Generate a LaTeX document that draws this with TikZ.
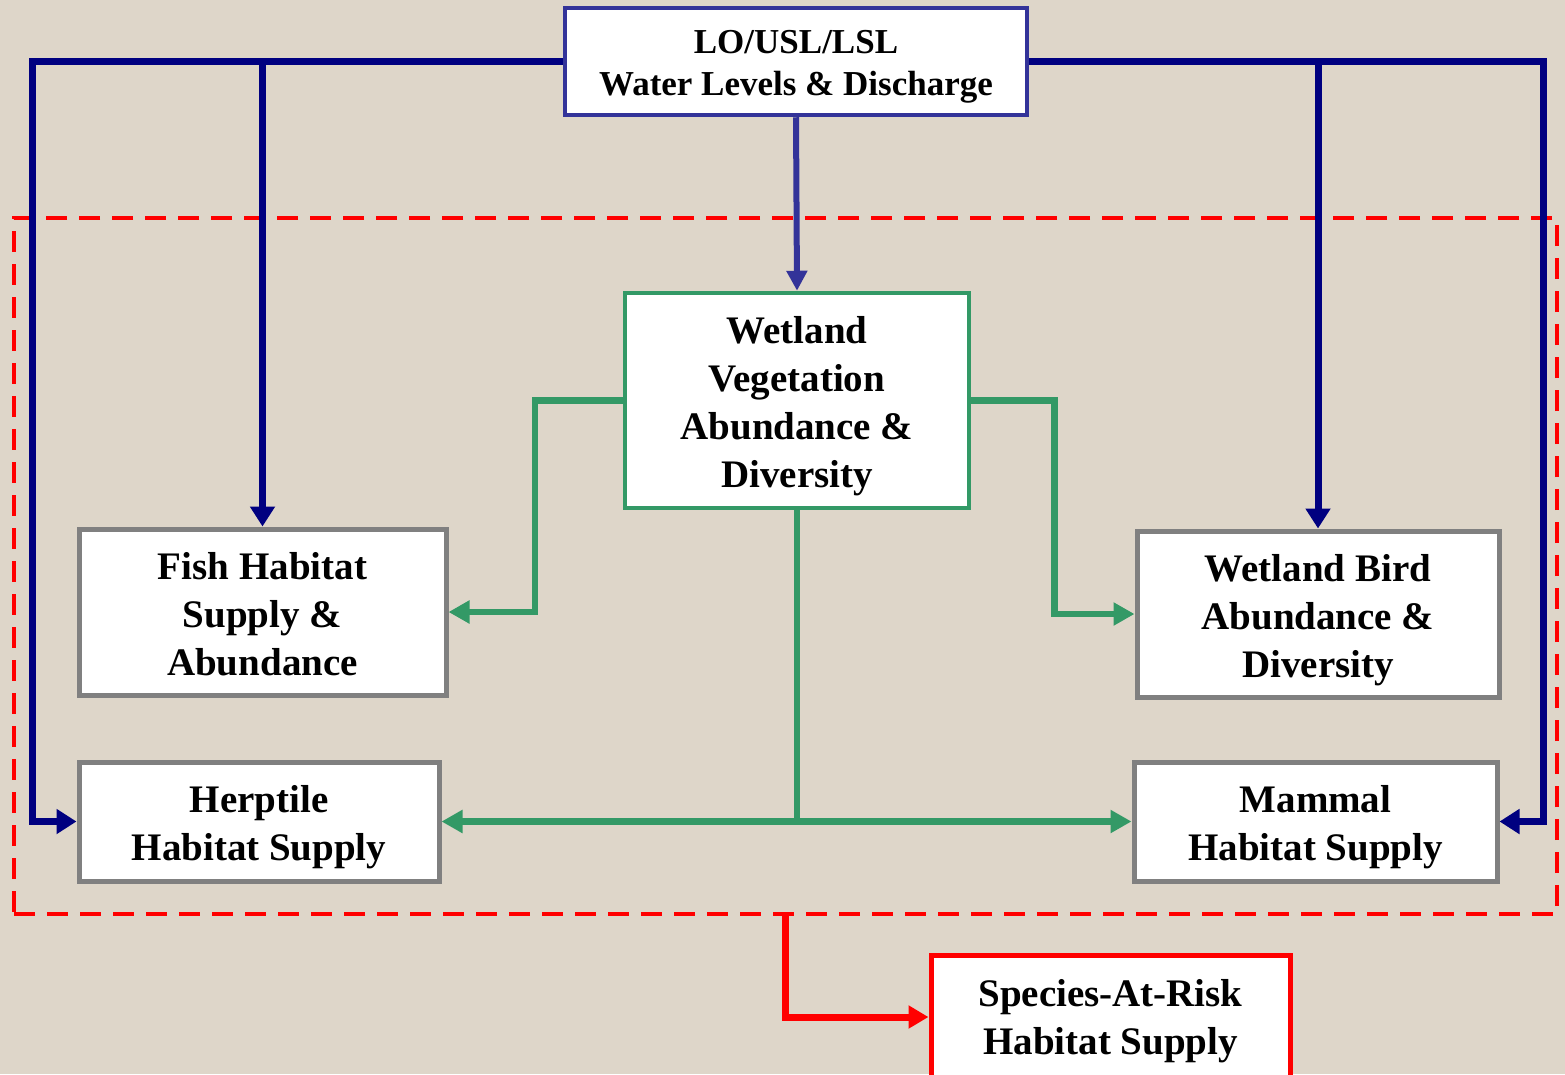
\documentclass[tikz,border=0pt]{standalone}
\usepackage{fontspec}
\setmainfont{Liberation Serif}
\usetikzlibrary{arrows.meta,calc}
\definecolor{bgc}{RGB}{222,214,201}
\definecolor{navyc}{RGB}{0,0,128}
\definecolor{topc}{RGB}{51,51,153}
\definecolor{greenc}{RGB}{51,153,102}
\definecolor{grayc}{RGB}{128,128,128}
\definecolor{redc}{RGB}{255,0,0}
\newcommand{\boxtext}[2]{\raisebox{#1}[\height][\depth]{\begin{tabular}{@{}c@{}}#2\end{tabular}}}
\tikzset{
  box/.style={draw, fill=white, line width=4.5pt, inner sep=0pt,
    font=\bfseries\fontsize{39}{48}\selectfont},
  topbox/.style={box, draw=topc, font=\bfseries\fontsize{35}{42}\selectfont},
  grnbox/.style={box, draw=greenc},
  gbox/.style={box, draw=grayc, line width=5pt},
  rbox/.style={box, draw=redc, line width=5pt},
  navyarrow/.style={draw=navyc, line width=7pt, -{Triangle[length=20pt,width=24pt]}},
  greenarrow/.style={draw=greenc, line width=6.5pt, -{Triangle[length=21pt,width=22pt]}},
  greenline/.style={draw=greenc, line width=6.5pt},
  redarrow/.style={draw=redc, line width=7pt, -{Triangle[length=20pt,width=22pt]}},
  zonebox/.style={draw=redc, dashed, dash pattern=on 21pt off 12pt, line width=4.5pt, inner sep=0pt}
}
\begin{document}
\begin{tikzpicture}[x=1pt,y=-1pt]
\useasboundingbox (0,0) rectangle (1565,1074);
\clip (0,0) rectangle (1565,1074);
\fill[bgc] (0,0) rectangle (1565,1074);

\node[zonebox, minimum width=1543pt, minimum height=696pt] (zone) at (785.5,566) {};

\node[topbox, minimum width=462pt, minimum height=107pt] (top) at (796,61.5) {\boxtext{-5pt}{LO/USL/LSL\\Water Levels \& Discharge}};
\node[grnbox, minimum width=344pt, minimum height=215pt] (wet) at (797,400.5) {\boxtext{-5pt}{Wetland\\Vegetation\\Abundance \&\\Diversity}};
\node[gbox, minimum width=367pt, minimum height=166pt] (fish) at (262.5,612) {\boxtext{-6pt}{Fish Habitat\\Supply \&\\Abundance}};
\node[gbox, minimum width=362pt, minimum height=166pt] (bird) at (1318,614) {\boxtext{-6pt}{Wetland Bird\\Abundance \&\\Diversity}};
\node[gbox, minimum width=360pt, minimum height=119pt] (herp) at (259,821.5) {\boxtext{-5pt}{Herptile\\Habitat Supply}};
\node[gbox, minimum width=363pt, minimum height=119pt] (mam) at (1315.5,821.5) {\boxtext{-5pt}{Mammal\\Habitat Supply}};
\node[rbox, minimum width=359pt, minimum height=124pt] (sar) at (1110.5,1017) {\boxtext{-4pt}{Species-At-Risk\\Habitat Supply}};

% blue connectors
\draw[navyarrow] (top.west) -| ($(herp.west)+(-44,0)$) -- (herp.west);
\draw[navyarrow] (top.west -| fish.north) -- (fish.north);
\draw[navyarrow] (top.east) -| ($(mam.east)+(44,0)$) -- (mam.east);
\draw[navyarrow] (top.east -| bird.north) -- (bird.north);
\draw[draw=topc, line width=6pt, -{Triangle[length=20pt,width=20pt]}] (top.south) -- (wet.north);

% green connectors
\draw[greenarrow] (wet.west) -- ++(-88,0) |- (fish.east);
\draw[greenarrow] (wet.east) -- ++(83,0) |- (bird.west);
\coordinate (gj) at (wet.south |- herp.east);
\draw[greenline] (wet.south) -- (gj);
\draw[greenarrow] (gj) -- (herp.east);
\draw[greenarrow] (gj) -- (mam.west);

% red connector
\draw[redarrow] (zone.south) |- (sar.west);
\end{tikzpicture}
\end{document}
